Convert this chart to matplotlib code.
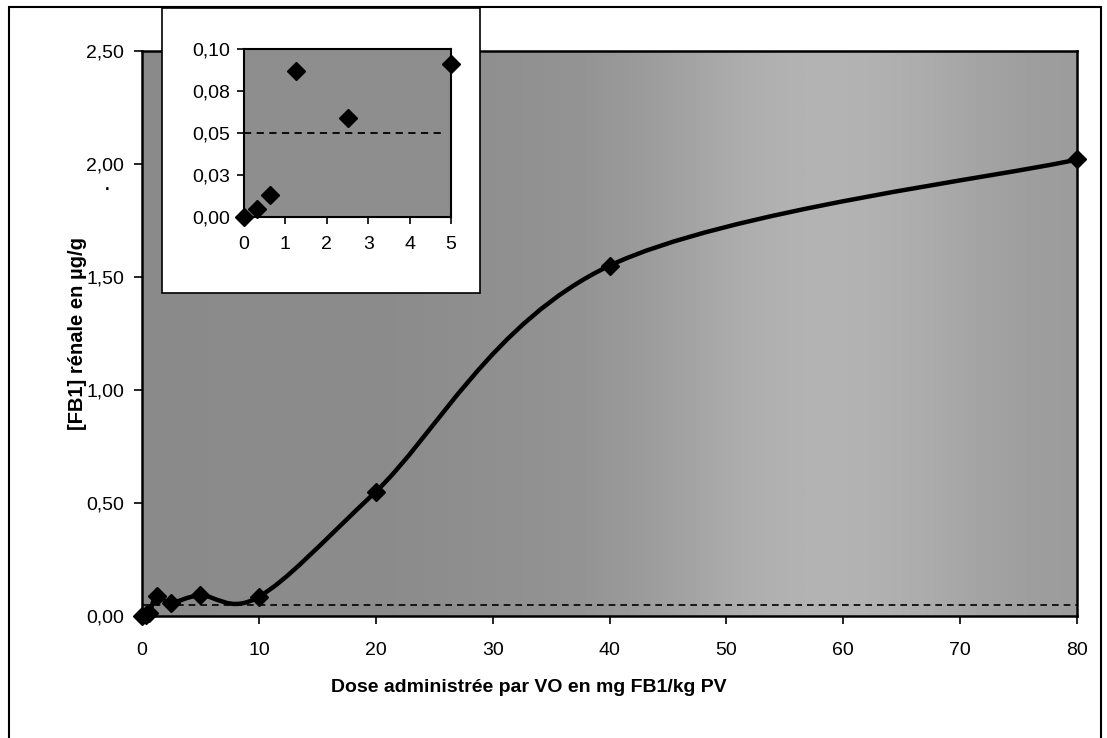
import numpy as np
import matplotlib.pyplot as plt
from matplotlib.path import Path
from matplotlib.patches import PathPatch, Rectangle

plt.rcParams['font.family'] = ['Liberation Sans', 'DejaVu Sans']

# doses (mg FB1/kg PV) and renal concentration (µg/g)
dose = [0, 0.3125, 0.625, 1.25, 2.5, 5, 10, 20, 40, 80]
conc = [0.0, 0.0046, 0.013, 0.087, 0.059, 0.091, 0.085, 0.55, 1.55, 2.02]
seuil = 0.05

x_ticks = [0, 10, 20, 30, 40, 50, 60, 70, 80]
y_ticks = [0, 0.5, 1.0, 1.5, 2.0, 2.5]
y_labels = ['0,00', '0,50', '1,00', '1,50', '2,00', '2,50']
in_x_ticks = [0, 1, 2, 3, 4, 5]
in_y_ticks = [0, 0.025, 0.05, 0.075, 0.1]
in_y_labels = ['0,00', '0,03', '0,05', '0,08', '0,10']


def smooth_path(xs, ys):
    # Excel-style smoothed line: cubic Bezier segments (Catmull-Rom, tension 1/6)
    p = np.column_stack([xs, ys]).astype(float)
    n = len(p)
    verts = [p[0]]
    codes = [Path.MOVETO]
    for i in range(n - 1):
        prev = p[i - 1] if i > 0 else p[i]
        nxt = p[i + 2] if i + 2 < n else p[i + 1]
        c1 = p[i] + (p[i + 1] - prev) / 6
        c2 = p[i + 1] - (nxt - p[i]) / 6
        verts += [c1, c2, p[i + 1]]
        codes += [Path.CURVE4] * 3
    return Path(verts, codes)


W, H = 1107, 738
fig = plt.figure(figsize=(W / 100, H / 100), dpi=100)

# chart area border
fig.patches.append(Rectangle((9 / W, -0.05), (1101 - 9) / W, 1.05 - 7 / H,
                             transform=fig.transFigure, fill=False,
                             edgecolor='black', linewidth=1.5, zorder=0))

ax = fig.add_axes([142 / W, 1 - 616 / H, (1077 - 142) / W, (616 - 51) / H])
# gray textured-looking background, lighter toward the right
shade = np.array([[0.54, 0.55, 0.54, 0.56, 0.57, 0.61, 0.69, 0.71, 0.67, 0.61]])
ax.imshow(shade, cmap='gray', vmin=0, vmax=1, aspect='auto',
          extent=[0, 1, 0, 1], transform=ax.transAxes, interpolation='bicubic',
          zorder=0)

ax.add_patch(PathPatch(smooth_path(dose, conc), facecolor='none',
                       edgecolor='black', linewidth=3.2, zorder=3))
ax.plot(dose, conc, linestyle='none', marker='D', markersize=9,
        color='black', zorder=4, clip_on=False)
ax.plot([0, 80], [seuil, seuil], color='black', linestyle=(0, (4, 3)),
        linewidth=1.2, zorder=2)

ax.set_xlim(0, 80)
ax.set_ylim(0, 2.5)
ax.set_xticks(x_ticks)
ax.set_xticklabels([str(t) for t in x_ticks])
ax.set_yticks(y_ticks)
ax.set_yticklabels(y_labels)
ax.tick_params(direction='out', length=6, width=1.2, labelsize=14)
ax.tick_params(axis='x', pad=13)
ax.tick_params(axis='y', pad=7)
for s in ax.spines.values():
    s.set_linewidth(1.8)
ax.set_xlabel('Dose administrée par VO en mg FB1/kg PV', fontsize=14,
              fontweight='bold')
ax.xaxis.set_label_coords((529 - 142) / 935, -0.112)
ax.set_ylabel('[FB1] rénale en µg/g', fontsize=14.5, fontweight='bold',
              labelpad=-1)
fig.text(105 / W, 1 - 190 / H, '.', fontsize=12, fontweight='bold',
         va='baseline')

# inset box
fig.patches.append(Rectangle((162 / W, 1 - 293 / H), (480 - 162) / W, (293 - 8) / H,
                             transform=fig.transFigure, facecolor='white',
                             edgecolor='black', linewidth=1.2, zorder=5))

ins = fig.add_axes([244 / W, 1 - 217 / H, (451 - 244) / W, (217 - 49) / H])
ins.set_zorder(6)
ins.set_facecolor('#8e8e8e')
ins.plot(dose[:6], conc[:6], linestyle='none', marker='D', markersize=9,
         color='black', clip_on=False, zorder=4)
ins.axhline(seuil, color='black', linestyle=(0, (4, 3)), linewidth=1.3,
            xmax=0.96, zorder=2)
ins.set_xlim(0, 5)
ins.set_ylim(0, 0.1)
ins.set_xticks(in_x_ticks)
ins.set_xticklabels([str(t) for t in in_x_ticks])
ins.set_yticks(in_y_ticks)
ins.set_yticklabels(in_y_labels)
ins.tick_params(direction='out', length=5, width=1.2, labelsize=14)
ins.tick_params(axis='x', pad=9)
ins.tick_params(axis='y', pad=5)
for s in ins.spines.values():
    s.set_linewidth(1.5)

fig.savefig('out.png', dpi=100)
